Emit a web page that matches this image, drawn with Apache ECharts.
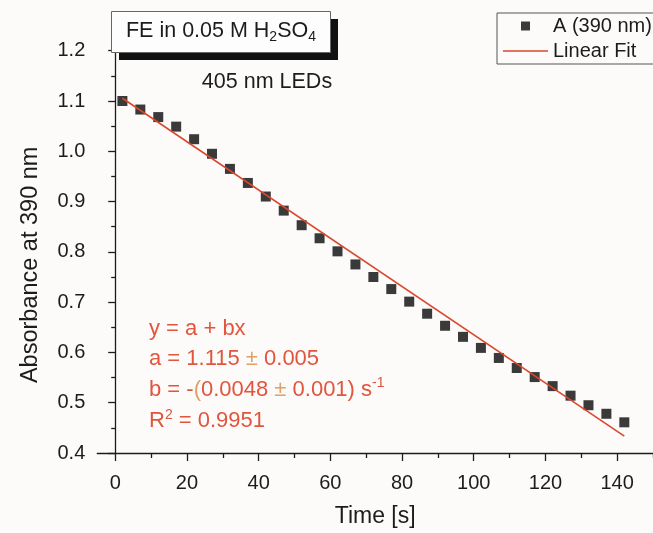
<!DOCTYPE html>
<html>
<head>
<meta charset="utf-8">
<script src="https://cdn.jsdelivr.net/npm/echarts@6/dist/echarts.min.js"></script>
<style>
  html, body { margin: 0; padding: 0; background: #fcfbfa; }
  #chart { width: 653px; height: 533px; }
</style>
</head>
<body>
<div id="chart"></div>
<script>
// Measured absorbance at 390 nm during irradiation with 405 nm LEDs
const times = [2, 7, 12, 17, 22, 27, 32, 37, 42, 47, 52, 57, 62, 67, 72, 77, 82, 87, 92, 97,
               102, 107, 112, 117, 122, 127, 132, 137, 142];
const absorbance = [1.100, 1.083, 1.068, 1.049, 1.024, 0.995, 0.965, 0.937, 0.910, 0.882,
                    0.853, 0.827, 0.801, 0.775, 0.750, 0.726, 0.701, 0.677, 0.653, 0.631,
                    0.609, 0.589, 0.569, 0.551, 0.533, 0.514, 0.495, 0.478, 0.461];

// Linear fit y = a + b x
const fitA = 1.115;
const fitB = -0.0048;
const fitRange = [2, 142];

// Axis ticks
const xTicks = [0, 20, 40, 60, 80, 100, 120, 140];
const xMinorTicks = [10, 30, 50, 70, 90, 110, 130, 150];
const yTicks = [0.4, 0.5, 0.6, 0.7, 0.8, 0.9, 1.0, 1.1, 1.2];

const FONT = '"Liberation Sans", Arial, Helvetica, sans-serif';
const RED = '#e0553c';
const TAN = '#dca266';
const INK = '#1c1c1c';
const FIT_COLOR = '#d9482d';

const fitLine = fitRange.map(x => [x, fitA + fitB * x]);

const axisBase = {
  type: 'value',
  min: -5,
  max: 150,
  axisLine: { show: true, lineStyle: { color: INK, width: 1.3 } },
  splitLine: { show: false }
};

const chart = echarts.init(document.getElementById('chart'), null, { renderer: 'canvas' });

chart.setOption({
  backgroundColor: '#fcfbfa',
  animation: false,
  textStyle: { fontFamily: FONT },
  grid: { left: 97.3, right: -4.8, top: 50.7, bottom: 70.3, containLabel: false },
  legend: {
    orient: 'vertical',
    left: 497,
    top: 13,
    padding: [3, 14, 3, 6],
    itemGap: 5,
    itemWidth: 45,
    itemHeight: 9,
    symbolKeepAspect: true,
    borderColor: '#555',
    borderWidth: 1,
    textStyle: { fontFamily: FONT, fontSize: 20, color: INK },
    data: [
      { name: 'A (390 nm)', icon: 'path://M0,0L10,0L10,10L0,10Z', itemStyle: { color: '#0a0a0a' } },
      { name: 'Linear Fit', icon: 'path://M0,0L45,0L45,1.6L0,1.6Z', itemStyle: { color: FIT_COLOR } }
    ]
  },
  xAxis: [
    Object.assign({}, axisBase, {
      position: 'bottom',
      name: 'Time [s]',
      nameLocation: 'middle',
      nameGap: 52,
      nameTextStyle: { fontFamily: FONT, fontSize: 23, color: INK },
      axisTick: { show: true, inside: false, length: 8, customValues: xTicks,
                  lineStyle: { color: INK, width: 1.3 } },
      axisLabel: { show: true, customValues: xTicks, margin: 20,
                   fontFamily: FONT, fontSize: 20, color: INK }
    }),
    Object.assign({}, axisBase, {
      position: 'bottom',
      axisLine: { show: false },
      axisTick: { show: true, inside: false, length: 5, customValues: xMinorTicks,
                  lineStyle: { color: INK, width: 1.3 } },
      axisLabel: { show: false, customValues: xMinorTicks }
    })
  ],
  yAxis: {
    type: 'value',
    min: yTicks[0],
    max: yTicks[yTicks.length - 1],
    interval: 0.1,
    name: 'Absorbance at 390 nm',
    nameLocation: 'middle',
    nameGap: 55,
    nameTextStyle: { fontFamily: FONT, fontSize: 23.5, color: INK, padding: [0, 26, 0, 0] },
    axisLine: { show: true, lineStyle: { color: INK, width: 1.3 } },
    axisTick: { show: true, inside: false, length: 7, lineStyle: { color: INK, width: 1.3 } },
    minorTick: { show: true, splitNumber: 2, length: 4, lineStyle: { color: INK, width: 1.3 } },
    splitLine: { show: false },
    axisLabel: {
      margin: 12, fontFamily: FONT, fontSize: 20, color: INK,
      formatter: v => v.toFixed(1)
    }
  },
  series: [
    {
      name: 'A (390 nm)',
      type: 'scatter',
      symbol: 'rect',
      symbolSize: 10,
      itemStyle: { color: '#0a0a0a' },
      data: times.map((t, i) => [t, absorbance[i]]),
      z: 3
    },
    {
      name: 'Linear Fit',
      type: 'line',
      symbol: 'none',
      lineStyle: { color: FIT_COLOR, width: 1.6 },
      itemStyle: { color: FIT_COLOR },
      data: fitLine,
      z: 4
    }
  ],
  graphic: [
    // Title box with drop shadow
    { type: 'rect', shape: { x: 119, y: 19, width: 219, height: 41 }, style: { fill: '#111' }, z: 10 },
    { type: 'rect', shape: { x: 111.5, y: 11.5, width: 219, height: 41 },
      style: { fill: '#fdfdfd', stroke: '#666', lineWidth: 1 }, z: 11 },
    {
      type: 'text', x: 221, y: 18, z: 12,
      style: {
        text: '{n|FE in 0.05 M H}{s|2}{n|SO}{s|4}',
        align: 'center',
        fill: INK,
        rich: {
          n: { fontFamily: FONT, fontSize: 21.5, lineHeight: 26, fill: INK },
          s: { fontFamily: FONT, fontSize: 14, lineHeight: 14, verticalAlign: 'bottom', fill: INK }
        }
      }
    },
    {
      type: 'text', x: 267, y: 82, z: 12,
      style: { text: '405 nm LEDs', fontFamily: FONT, fontSize: 21.5, fill: INK,
               align: 'center', verticalAlign: 'middle' }
    },
    // Fit result annotation
    {
      type: 'group', left: 149, top: 316, z: 12,
      children: [
        { type: 'text', x: 0, y: 0,
          style: { text: 'y = a + bx', fontFamily: FONT, fontSize: 22, fill: RED, lineHeight: 26 } },
        { type: 'text', x: 0, y: 30,
          style: {
            text: '{r|a = 1.115 }{t|±}{r| 0.005}',
            rich: {
              r: { fontFamily: FONT, fontSize: 22, lineHeight: 26, fill: RED },
              t: { fontFamily: FONT, fontSize: 22, lineHeight: 26, fill: TAN }
            }
          } },
        { type: 'text', x: 0, y: 60.5,
          style: {
            text: '{r|b = -}{t|(}{r|0.0048 }{t|±}{r| 0.001) s}{p|-1}',
            rich: {
              r: { fontFamily: FONT, fontSize: 22, lineHeight: 26, fill: RED },
              t: { fontFamily: FONT, fontSize: 22, lineHeight: 26, fill: TAN },
              p: { fontFamily: FONT, fontSize: 14, lineHeight: 14, verticalAlign: 'top', fill: RED }
            }
          } },
        { type: 'text', x: 0, y: 92,
          style: {
            text: '{r|R}{p|2}{r| = 0.9951}',
            rich: {
              r: { fontFamily: FONT, fontSize: 22, lineHeight: 26, fill: RED },
              p: { fontFamily: FONT, fontSize: 14, lineHeight: 14, verticalAlign: 'top', fill: RED }
            }
          } }
      ]
    }
  ]
});
</script>
</body>
</html>
